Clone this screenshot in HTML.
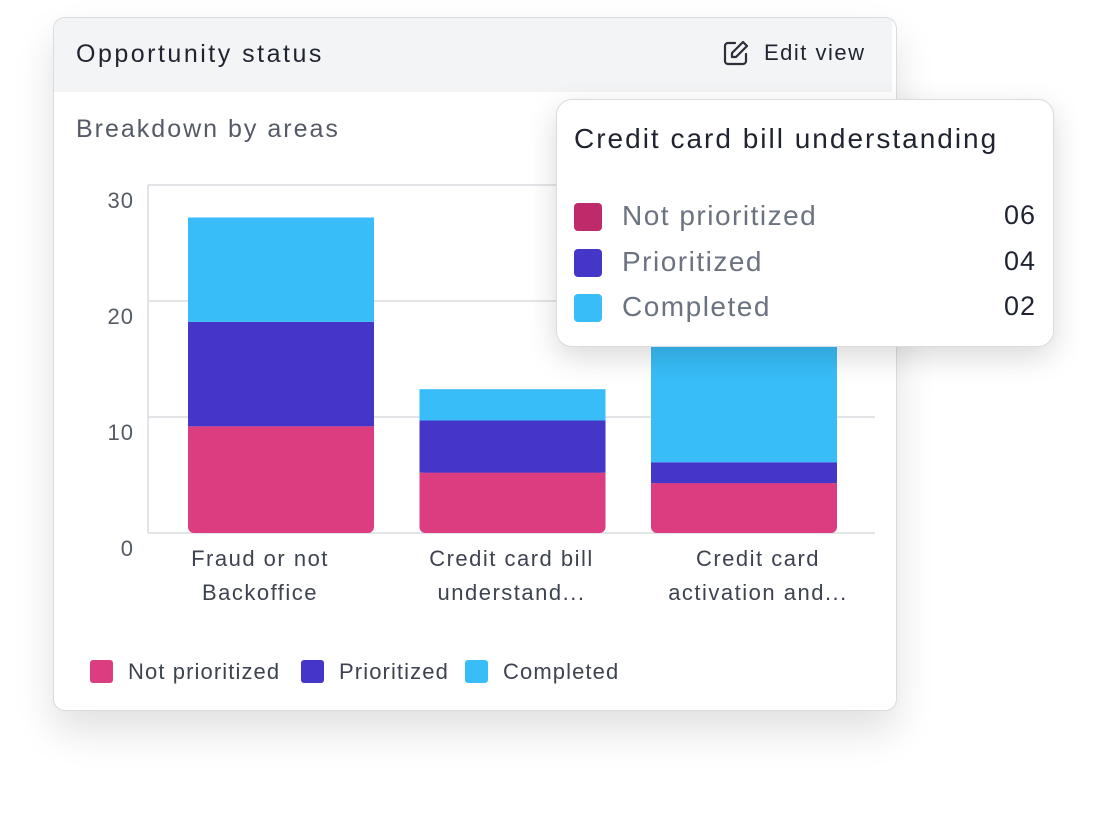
<!DOCTYPE html>
<html><head><meta charset="utf-8"><style>
body{margin:0;width:1096px;height:817px;background:#fff;font-family:"Liberation Sans",sans-serif;position:relative;overflow:hidden}
.card{position:absolute;left:53px;top:17px;width:842px;height:692px;border:1px solid #d9dbe0;border-radius:12px;background:#fff;box-shadow:0 20px 40px rgba(0,0,0,0.12);overflow:hidden}
.hdr{position:absolute;left:0;top:0;width:838px;height:74px;background:#f3f4f6}
.tip{position:absolute;left:556px;top:99px;width:496px;height:246px;border:1px solid #d9dbe0;border-radius:16px;background:#fff;box-shadow:0 10px 30px rgba(0,0,0,0.15)}
</style></head><body>
<div class="card">
 <div class="hdr">
  <div style="position:absolute;left:22px;top:22px;font-size:25px;letter-spacing:2.5px;color:#1f2430">Opportunity status</div>
  <div style="position:absolute;left:668px;top:21px;display:flex;align-items:center;gap:14px;cursor:pointer">
   <svg width="28" height="28" viewBox="0 0 28 28"><path d="M13 4H6a3 3 0 0 0-3 3v15a3 3 0 0 0 3 3h15a3 3 0 0 0 3-3v-7" fill="none" stroke="#2a2f3a" stroke-width="2.2" stroke-linecap="round"/><path d="M21 3l4 4-11 11H10v-4z" fill="none" stroke="#2a2f3a" stroke-width="2.2" stroke-linejoin="round"/></svg>
   <span style="font-size:22px;letter-spacing:1.5px;color:#1f2430">Edit view</span>
  </div>
 </div>
 <div style="position:absolute;left:22px;top:97px;font-size:25px;letter-spacing:2px;color:#555b66">Breakdown by areas</div>
</div>
<svg id="chart" width="1096" height="817" style="position:absolute;left:0;top:0"></svg>
<div class="tip">
 <div style="position:absolute;left:17px;top:23px;font-size:28px;letter-spacing:2px;color:#1f2430">Credit card bill understanding</div>
 <div id="tiprows"></div>
</div>
<script>
const categories=["Fraud or not|Backoffice","Credit card bill|understand...","Credit card|activation and..."];
const notPrioritized=[9.2,5.2,4.3];
const prioritized=[9,4.5,1.8];
const completed=[9,2.7,10.6];
const yTicks=[0,10,20,30];
const seriesNames=["Not prioritized","Prioritized","Completed"];
const colors=["#dc3d80","#4436c9","#38bdf8"];
const tipValues=["06","04","02"];
const tipColors=["#be2a6a","#4436c9","#38bdf8"];
const NS="http://www.w3.org/2000/svg";
const svg=document.getElementById('chart');
const y=v=>533-v*(348/30);
const x=i=>188+i*231.5;
const bw=186;
const labelShift=[-21,-1,14];
function mk(t,a){const e=document.createElementNS(NS,t);for(const k in a)e.setAttribute(k,a[k]);svg.appendChild(e);return e;}
yTicks.forEach(t=>{
 const g=mk('line',{x1:148,x2:875,y1:y(t),y2:y(t),stroke:'#d9dbe0','stroke-width':1.5});
 
 
 const l=mk('text',{x:134,y:y(t)+23,'text-anchor':'end','font-size':22,'letter-spacing':1,fill:'#555b66','font-family':'Liberation Sans'});
 l.textContent=t;
 
 
});
const ax=mk('line',{x1:148,x2:148,y1:y(30),y2:y(0),stroke:'#d9dbe0','stroke-width':1.5});


const series=[notPrioritized,prioritized,completed];
categories.forEach((c,i)=>{
 let base=0;
 series.forEach((s,j)=>{
  const top=base+s[i];
  const r=mk('rect',{x:x(i),y:y(top),width:bw,height:y(base)-y(top),fill:colors[j],rx:j==0?6:0});
  
  
  if(j==0){const f=mk('rect',{x:x(i),y:y(top),width:bw,height:Math.min(10,y(base)-y(top)),fill:colors[j]});}
  base=top;
 });
 c.split('|').forEach((ln,k)=>{
  const t=mk('text',{x:x(i)+bw/2+labelShift[i],y:566+k*34,'text-anchor':'middle','font-size':22,'letter-spacing':1.5,fill:'#3d4350','font-family':'Liberation Sans'});
  t.textContent=ln;
  
  
 });
});
const lx=[90,301,465];
seriesNames.forEach((n,j)=>{
 const r=mk('rect',{x:lx[j],y:660,width:23,height:23,rx:3,fill:colors[j]});
 
 
 const t=mk('text',{x:lx[j]+38,y:679,'font-size':22,'letter-spacing':1.1,fill:'#3d4350','font-family':'Liberation Sans'});
 t.textContent=n;
 
 
});
const tr=document.getElementById('tiprows');
seriesNames.forEach((n,j)=>{
 const d=document.createElement('div');
 
 
 d.style.cssText='position:absolute;left:17px;width:462px;top:'+(102+j*45.5)+'px;height:30px;';
 d.innerHTML='<span style="position:absolute;left:0;top:1px;width:28px;height:28px;border-radius:4px;background:'+tipColors[j]+'"></span><span style="position:absolute;left:48px;top:-2px;font-size:28px;letter-spacing:1.5px;color:#6b7280">'+n+'</span><span style="position:absolute;right:0;top:-2px;font-size:27px;letter-spacing:1px;color:#1f2430">'+tipValues[j]+'</span>';
 tr.appendChild(d);
});
</script>
</body></html>
